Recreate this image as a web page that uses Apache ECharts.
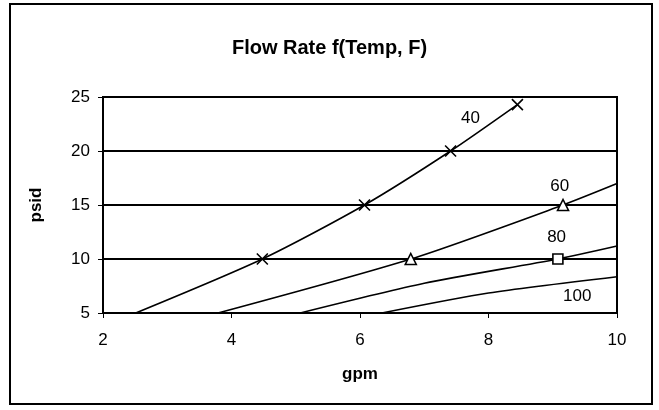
<!DOCTYPE html>
<html><head><meta charset="utf-8">
<script src="https://cdn.jsdelivr.net/npm/echarts@6/dist/echarts.min.js"></script>
<style>html,body{margin:0;padding:0;background:#fff}#c{width:659px;height:410px}</style>
</head><body><div id="c"></div>
<script>
const xTicks = [2, 4, 6, 8, 10];
const yTicks = [5, 10, 15, 20, 25];
const s40 = [[2.51, 5], [4.48, 10], [6.07, 15], [7.41, 20], [8.45, 24.3]];
const s60 = [[3.79, 5], [6.79, 10], [9.16, 15], [10, 16.98]];
const s80 = [[5.07, 5], [7.0, 7.75], [9.08, 10], [10, 11.2]];
const s100 = [[6.34, 5], [8.0, 6.85], [10, 8.36]];
const markedIdx = {s40: [1, 2, 3, 4], s60: [1, 2], s80: [2], s100: []};
const labels = [["40", 7.72, 23.05], ["60", 9.11, 16.7], ["80", 9.06, 12.05], ["100", 9.38, 6.5]];

const font = 'Liberation Sans, Arial, sans-serif';
const X_PATH = 'path://M0,0L10,10M10,0L0,10';
function mk(arr, idx) {
  return arr.map((p, i) => ({value: p, symbolSize: idx.includes(i) ? undefined : 0}));
}
function series(name, arr, idx, symbol, size, lbl) {
  return {
    type: 'line', name, data: mk(arr, idx), smooth: 0.25,
    symbol, symbolSize: size, showAllSymbol: true,
    lineStyle: {color: '#000', width: 1.6},
    itemStyle: {color: symbol === X_PATH ? '#000' : '#fff', borderColor: '#000', borderWidth: 1.6},
    emphasis: {disabled: true}, animation: false, clip: true,
    markPoint: {
      symbol: 'circle', symbolSize: 0, silent: true,
      label: {show: true, position: 'inside', color: '#000', fontSize: 17, fontFamily: font, formatter: lbl[0]},
      data: [{coord: [lbl[1], lbl[2]]}]
    }
  };
}
const chart = echarts.init(document.getElementById('c'), null, {renderer: 'canvas'});
chart.setOption({
  animation: false,
  backgroundColor: '#fff',
  title: {text: 'Flow Rate f(Temp, F)', left: 'center', top: 33,
    textStyle: {fontFamily: font, fontSize: 20, fontWeight: 'bold', color: '#000'}},
  grid: {left: 103, right: 42, top: 97, bottom: 97, show: true, borderColor: '#000', borderWidth: 2, backgroundColor: 'transparent'},
  xAxis: {type: 'value', min: xTicks[0], max: xTicks[xTicks.length - 1], interval: 2,
    name: 'gpm', nameLocation: 'middle', nameGap: 53,
    nameTextStyle: {fontFamily: font, fontSize: 17, fontWeight: 'bold', color: '#000'},
    axisLine: {show: true, lineStyle: {color: '#000', width: 2}},
    axisTick: {show: true, length: 5, lineStyle: {color: '#000'}},
    axisLabel: {fontFamily: font, fontSize: 17, color: '#000', margin: 19},
    splitLine: {show: false}},
  yAxis: {type: 'value', min: yTicks[0], max: yTicks[yTicks.length - 1], interval: 5,
    name: 'psid', nameLocation: 'middle', nameGap: 58, nameRotate: 90,
    nameTextStyle: {fontFamily: font, fontSize: 17, fontWeight: 'bold', color: '#000'},
    axisLine: {show: true, lineStyle: {color: '#000', width: 2}},
    axisTick: {show: true, length: 5, lineStyle: {color: '#000'}},
    axisLabel: {fontFamily: font, fontSize: 17, color: '#000', margin: 13},
    splitLine: {show: true, lineStyle: {color: '#000', width: 2}}},
  graphic: [{type: 'rect', shape: {x: 10, y: 4, width: 642, height: 400},
    style: {fill: 'none', stroke: '#000', lineWidth: 2}, silent: true, z: 100}],
  series: [
    series('40', s40, markedIdx.s40, X_PATH, 11, labels[0]),
    series('60', s60, markedIdx.s60, 'triangle', 11, labels[1]),
    series('80', s80, markedIdx.s80, 'rect', 10, labels[2]),
    series('100', s100, markedIdx.s100, 'none', 0, labels[3])
  ]
});
</script></body></html>
